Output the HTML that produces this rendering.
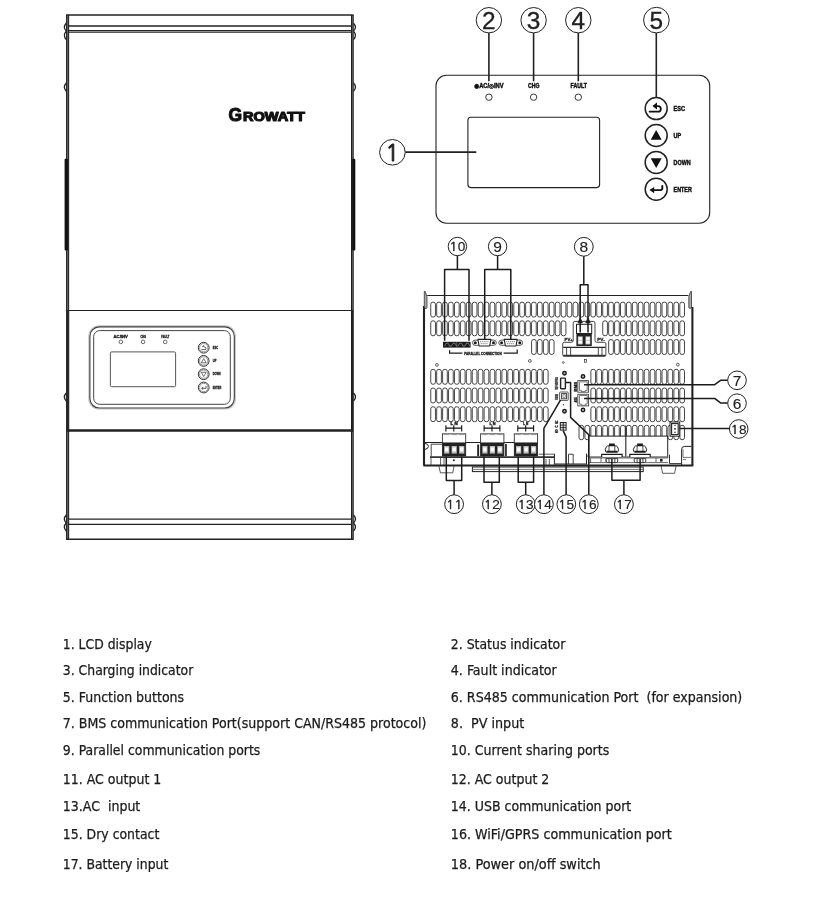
<!DOCTYPE html>
<html lang="en"><head><meta charset="utf-8"><title>Growatt inverter overview</title>
<style>
html,body{margin:0;padding:0;background:#fff;}
body{width:823px;height:897px;overflow:hidden;position:relative;font-family:"DejaVu Sans Condensed","Liberation Sans",sans-serif;}
svg{position:absolute;left:0;top:0;display:block;filter:grayscale(1)}
text{font-family:"Liberation Sans",sans-serif;fill:#222;stroke:none}
.one{font-family:"NanumGothic","Liberation Sans",sans-serif;stroke-width:.5px}
.bt text{fill:#111;stroke:#111;stroke-width:.42px}
.bs text{stroke:#222;stroke-width:.3px}
.lg text{font-family:"DejaVu Sans Condensed","Liberation Sans",sans-serif;font-size:14px;fill:#1c1c1c;stroke:#1c1c1c;stroke-width:.25px}
</style></head><body>
<svg width="823" height="897" viewBox="0 0 823 897">
<g id="unit-front" fill="none" stroke="#222">
<rect x="66" y="15" width="3.1" height="524.3" fill="#777" stroke="none"/>
<rect x="66" y="310" width="3.1" height="121.6" fill="#2a2a2a" stroke="none"/>
<path d="M66.6 15V539.3M68.5 15V539.3" stroke-width="1.2" stroke="#2a2a2a"/>
<rect x="351" y="15" width="3" height="524.3" fill="#7a7a7a" stroke="none"/>
<rect x="351" y="310" width="3" height="121.6" fill="#2a2a2a" stroke="none"/>
<path d="M351.7 15V539.3" stroke-width="1.4" stroke="#1c1c1c"/><path d="M353.5 15V539.3" stroke-width="0.9" stroke="#555"/>
<path d="M66 15H353.5" stroke-width="1.7"/>
<path d="M68 26H352" stroke-width="1.6"/>
<path d="M68 30.6H352M68 32.3H352" stroke-width="1.1"/>
<path d="M68 310.5H352" stroke-width="1.2"/>
<path d="M67 430.5H353" stroke-width="2.5"/>
<path d="M68 519.2H352" stroke-width="1.3"/>
<path d="M68 524.3H352" stroke-width="1.3"/>
<path d="M66 539.3H353.5" stroke-width="1.6"/>
<path d="M66.3 23.2Q62.4 27.1 66.3 31.1" stroke-width="1.3"/>
<path d="M353.5 23.2Q357.4 27.1 353.5 31.1" stroke-width="1.3"/>
<path d="M66.3 31.1Q62.4 35.4 66.3 39.6" stroke-width="1.3"/>
<path d="M353.5 31.1Q357.4 35.4 353.5 39.6" stroke-width="1.3"/>
<path d="M66.3 83.0Q62.4 87.2 66.3 91.3" stroke-width="1.3"/>
<path d="M353.5 83.0Q357.4 87.2 353.5 91.3" stroke-width="1.3"/>
<path d="M66.3 393.0Q62.4 397.0 66.3 401.0" stroke-width="1.3"/>
<path d="M353.5 393.0Q357.4 397.0 353.5 401.0" stroke-width="1.3"/>
<path d="M66.3 515.0Q62.4 519.0 66.3 523.0" stroke-width="1.3"/>
<path d="M353.5 515.0Q357.4 519.0 353.5 523.0" stroke-width="1.3"/>
<path d="M66.3 523.0Q62.4 527.0 66.3 531.0" stroke-width="1.3"/>
<path d="M353.5 523.0Q357.4 527.0 353.5 531.0" stroke-width="1.3"/>
</g>
<rect x="64.6" y="158.8" width="3.3" height="91.6" rx="1" fill="#111"/>
<rect x="352.2" y="158.8" width="3.1" height="91.6" rx="1" fill="#111"/>
<g id="logo" font-weight="bold" style="font-family:'Liberation Sans',sans-serif" fill="#111" stroke="#111" stroke-width="1.1" stroke-linejoin="round">
<text x="228.4" y="121" font-size="17.6" textLength="13.6" lengthAdjust="spacingAndGlyphs" style="fill:#111;stroke:#111">G</text>
<text x="243" y="121" font-size="12.2" textLength="62" lengthAdjust="spacingAndGlyphs" style="fill:#111;stroke:#111">ROWATT</text>
</g>
<g id="small-panel" fill="none" stroke="#333">
<rect x="88.9" y="325.9" width="146.4" height="83.1" rx="10.2" stroke-width="1.2" stroke="#c4c4c4"/>
<rect x="89.9" y="326.9" width="144.4" height="81.1" rx="9.4" stroke-width="1.1" stroke="#3c3c3c"/>
<rect x="93.7" y="330.6" width="136.6" height="73.7" rx="6" stroke-width="1" stroke="#444"/>
<rect x="110.4" y="351.9" width="65.2" height="34.8" rx="1.2" stroke-width="0.9" stroke="#444"/>
<circle cx="120.8" cy="341.9" r="1.8" stroke-width="0.8" stroke="#444"/>
<circle cx="143.1" cy="341.9" r="1.8" stroke-width="0.8" stroke="#444"/>
<circle cx="165.2" cy="341.9" r="1.8" stroke-width="0.8" stroke="#444"/>
<circle cx="203.7" cy="347.7" r="5.4" stroke-width="1"/>
<circle cx="203.7" cy="347.7" r="4.1" stroke-width="0.6" stroke="#555"/>
<circle cx="203.7" cy="360.9" r="5.4" stroke-width="1"/>
<circle cx="203.7" cy="360.9" r="4.1" stroke-width="0.6" stroke="#555"/>
<circle cx="203.7" cy="374.2" r="5.4" stroke-width="1"/>
<circle cx="203.7" cy="374.2" r="4.1" stroke-width="0.6" stroke="#555"/>
<circle cx="203.7" cy="387.5" r="5.4" stroke-width="1"/>
<circle cx="203.7" cy="387.5" r="4.1" stroke-width="0.6" stroke="#555"/>
<path d="M201.4 349.6h4.6M202.1 347.1l1.6 -1.5l0 1.2q2.6 0 2.4 2.2" stroke-width="0.8"/>
<path d="M201.3 362.8l2.4 -4.2l2.4 4.2z" stroke-width="0.7"/>
<path d="M201.3 372.3l2.4 4.2l2.4 -4.2z" stroke-width="0.7"/>
<path d="M206.0 385.9v2.4h-4.2m1.4 -1.3l-1.5 1.3l1.5 1.3" stroke-width="0.8"/>
</g>
<g id="small-panel-text" class="bs" font-weight="bold" font-size="3.4">
<text x="113.6" y="337.6" textLength="14.2" lengthAdjust="spacingAndGlyphs">AC/INV</text>
<text x="140.4" y="337.6" textLength="5.6" lengthAdjust="spacingAndGlyphs">CHG</text>
<text x="161.3" y="337.6" textLength="8.0" lengthAdjust="spacingAndGlyphs">FAULT</text>
<text x="212.8" y="348.9" textLength="5.4" lengthAdjust="spacingAndGlyphs">ESC</text>
<text x="212.8" y="362.1" textLength="3.6" lengthAdjust="spacingAndGlyphs">UP</text>
<text x="212.8" y="375.4" textLength="7.8" lengthAdjust="spacingAndGlyphs">DOWN</text>
<text x="212.8" y="388.7" textLength="8.6" lengthAdjust="spacingAndGlyphs">ENTER</text>
</g>
<g id="display-panel" fill="none" stroke="#222">
<rect x="436" y="75.2" width="273.7" height="148" rx="10.5" stroke-width="1.1"/>
<rect x="467.9" y="117.2" width="131.7" height="70.4" rx="3" stroke-width="1.1"/>
<circle cx="488.9" cy="97.2" r="3.2" stroke-width="0.9"/>
<path d="M488.9 33V81.3" stroke-width="1.6"/>
<circle cx="533.6" cy="97.2" r="3.2" stroke-width="0.9"/>
<path d="M533.6 33V81.3" stroke-width="1.6"/>
<circle cx="578.3" cy="97.2" r="3.2" stroke-width="0.9"/>
<path d="M578.3 33V81.3" stroke-width="1.6"/>
<path d="M656.3 33V97" stroke-width="1.6"/>
<path d="M405.2 152.2H476.3" stroke-width="1.7"/>
<circle cx="656.2" cy="108.6" r="11" stroke-width="1.5" fill="#fff"/>
<circle cx="656.2" cy="135.5" r="11" stroke-width="1.5" fill="#fff"/>
<circle cx="656.2" cy="162.4" r="11" stroke-width="1.5" fill="#fff"/>
<circle cx="656.2" cy="189.3" r="11" stroke-width="1.5" fill="#fff"/>
</g>
<g id="display-icons" fill="#111" stroke="#111">
<path d="M649.6 111.7H658.0a2.8 2.8 0 0 0 0 -5.6H655.6" stroke-width="1.8" fill="none" stroke-linecap="round"/>
<path d="M652.4 106.1l4.6 -3.5v7z" stroke="none"/>
<path d="M650.7 139.7l5.5 -9.8l5.5 9.8z" stroke="none"/>
<path d="M650.7 158.2l5.5 9.8l5.5 -9.8z" stroke="none"/>
<path d="M662.3 185.9v2.4q0 1.8 -1.8 1.8H653.6" stroke-width="1.9" fill="none" stroke-linecap="round"/>
<path d="M649.4 190.1l4.8 -3.1v6.2z" stroke="none"/>
</g>
<g id="display-text" font-weight="bold" font-size="6.3" style="stroke:#222;stroke-width:0.45px" class="bt">
<text x="474.2" y="88" textLength="29.4" lengthAdjust="spacingAndGlyphs"><tspan dy="-0.5" style="font-family:'DejaVu Sans',sans-serif" font-size="6.2">●</tspan><tspan dy="0.5">AC/</tspan><tspan dy="-0.5" style="font-family:'DejaVu Sans',sans-serif" font-size="6.2">◎</tspan><tspan dy="0.5">INV</tspan></text>
<text x="528.0" y="88" textLength="11.4" lengthAdjust="spacingAndGlyphs">CHG</text>
<text x="570.6" y="88" textLength="16.4" lengthAdjust="spacingAndGlyphs">FAULT</text>
<text x="673.6" y="111.0" textLength="11.4" lengthAdjust="spacingAndGlyphs">ESC</text>
<text x="673.6" y="137.9" textLength="7.6" lengthAdjust="spacingAndGlyphs">UP</text>
<text x="673.6" y="164.8" textLength="17.0" lengthAdjust="spacingAndGlyphs">DOWN</text>
<text x="673.6" y="191.7" textLength="18.2" lengthAdjust="spacingAndGlyphs">ENTER</text>
</g>
<g id="callouts-top">
<circle cx="392.4" cy="152.3" r="12.8" fill="#fff" stroke="#222" stroke-width="1.00"/><text x="392.4" y="161.0" font-size="24.4" text-anchor="middle" style="stroke:#222;stroke-width:0.35px"><tspan class="one" style="font-size:22.4px;stroke-width:1px">1</tspan></text>
<circle cx="488.9" cy="20.2" r="12.7" fill="#fff" stroke="#222" stroke-width="1.00"/><text x="488.9" y="28.9" font-size="24.4" text-anchor="middle" style="stroke:#222;stroke-width:0.35px">2</text>
<circle cx="533.6" cy="20.2" r="12.7" fill="#fff" stroke="#222" stroke-width="1.00"/><text x="533.6" y="28.9" font-size="24.4" text-anchor="middle" style="stroke:#222;stroke-width:0.35px">3</text>
<circle cx="578.3" cy="20.2" r="12.7" fill="#fff" stroke="#222" stroke-width="1.00"/><text x="578.3" y="28.9" font-size="24.4" text-anchor="middle" style="stroke:#222;stroke-width:0.35px">4</text>
<circle cx="656.4" cy="20.1" r="12.8" fill="#fff" stroke="#222" stroke-width="1.00"/><text x="656.4" y="28.8" font-size="24.4" text-anchor="middle" style="stroke:#222;stroke-width:0.35px">5</text>
</g>
<g class="lg" id="legend">
<text x="62.8" y="649.0" xml:space="preserve" textLength="89.0" lengthAdjust="spacingAndGlyphs">1. LCD display</text>
<text x="62.8" y="675.0" xml:space="preserve" textLength="130.5" lengthAdjust="spacingAndGlyphs">3. Charging indicator</text>
<text x="62.8" y="701.7" xml:space="preserve" textLength="121.3" lengthAdjust="spacingAndGlyphs">5. Function buttons</text>
<text x="62.8" y="727.7" xml:space="preserve" textLength="363.6" lengthAdjust="spacingAndGlyphs">7. BMS communication Port(support CAN/RS485 protocol)</text>
<text x="62.8" y="754.5" xml:space="preserve" textLength="197.5" lengthAdjust="spacingAndGlyphs">9. Parallel communication ports</text>
<text x="62.8" y="784.2" xml:space="preserve" textLength="98.5" lengthAdjust="spacingAndGlyphs">11. AC output 1</text>
<text x="62.8" y="811.4" xml:space="preserve" textLength="77.5" lengthAdjust="spacingAndGlyphs">13.AC  input</text>
<text x="62.8" y="838.6" xml:space="preserve" textLength="96.5" lengthAdjust="spacingAndGlyphs">15. Dry contact</text>
<text x="62.8" y="868.5" xml:space="preserve" textLength="105.5" lengthAdjust="spacingAndGlyphs">17. Battery input</text>
<text x="450.8" y="649.0" xml:space="preserve" textLength="114.5" lengthAdjust="spacingAndGlyphs">2. Status indicator</text>
<text x="450.8" y="675.0" xml:space="preserve" textLength="106.0" lengthAdjust="spacingAndGlyphs">4. Fault indicator</text>
<text x="450.8" y="701.7" xml:space="preserve" textLength="291.5" lengthAdjust="spacingAndGlyphs">6. RS485 communication Port  (for expansion)</text>
<text x="450.8" y="727.7" xml:space="preserve" textLength="73.5" lengthAdjust="spacingAndGlyphs">8.  PV input</text>
<text x="450.8" y="754.5" xml:space="preserve" textLength="158.5" lengthAdjust="spacingAndGlyphs">10. Current sharing ports</text>
<text x="450.8" y="784.2" xml:space="preserve" textLength="98.5" lengthAdjust="spacingAndGlyphs">12. AC output 2</text>
<text x="450.8" y="811.4" xml:space="preserve" textLength="180.5" lengthAdjust="spacingAndGlyphs">14. USB communication port</text>
<text x="450.8" y="838.6" xml:space="preserve" textLength="221.0" lengthAdjust="spacingAndGlyphs">16. WiFi/GPRS communication port</text>
<text x="450.8" y="868.5" xml:space="preserve" textLength="150.0" lengthAdjust="spacingAndGlyphs">18. Power on/off switch</text>
</g>
<g id="vents" fill="#fff" stroke="#262626" stroke-width="0.85">
<rect x="430.75" y="302.1" width="4.7" height="15.0" rx="2.35" ry="2.1"/>
<rect x="436.68" y="302.1" width="4.7" height="15.0" rx="2.35" ry="2.1"/>
<rect x="442.61" y="302.1" width="4.7" height="15.0" rx="2.35" ry="2.1"/>
<rect x="448.54" y="302.1" width="4.7" height="15.0" rx="2.35" ry="2.1"/>
<rect x="454.47" y="302.1" width="4.7" height="15.0" rx="2.35" ry="2.1"/>
<rect x="460.40" y="302.1" width="4.7" height="15.0" rx="2.35" ry="2.1"/>
<rect x="466.33" y="302.1" width="4.7" height="15.0" rx="2.35" ry="2.1"/>
<rect x="472.26" y="302.1" width="4.7" height="15.0" rx="2.35" ry="2.1"/>
<rect x="478.19" y="302.1" width="4.7" height="15.0" rx="2.35" ry="2.1"/>
<rect x="484.12" y="302.1" width="4.7" height="15.0" rx="2.35" ry="2.1"/>
<rect x="490.05" y="302.1" width="4.7" height="15.0" rx="2.35" ry="2.1"/>
<rect x="495.98" y="302.1" width="4.7" height="15.0" rx="2.35" ry="2.1"/>
<rect x="501.91" y="302.1" width="4.7" height="15.0" rx="2.35" ry="2.1"/>
<rect x="507.84" y="302.1" width="4.7" height="15.0" rx="2.35" ry="2.1"/>
<rect x="513.77" y="302.1" width="4.7" height="15.0" rx="2.35" ry="2.1"/>
<rect x="519.70" y="302.1" width="4.7" height="15.0" rx="2.35" ry="2.1"/>
<rect x="525.63" y="302.1" width="4.7" height="15.0" rx="2.35" ry="2.1"/>
<rect x="531.56" y="302.1" width="4.7" height="15.0" rx="2.35" ry="2.1"/>
<rect x="537.49" y="302.1" width="4.7" height="15.0" rx="2.35" ry="2.1"/>
<rect x="543.42" y="302.1" width="4.7" height="15.0" rx="2.35" ry="2.1"/>
<rect x="549.35" y="302.1" width="4.7" height="15.0" rx="2.35" ry="2.1"/>
<rect x="555.28" y="302.1" width="4.7" height="15.0" rx="2.35" ry="2.1"/>
<rect x="561.21" y="302.1" width="4.7" height="15.0" rx="2.35" ry="2.1"/>
<rect x="567.14" y="302.1" width="4.7" height="15.0" rx="2.35" ry="2.1"/>
<rect x="573.07" y="302.1" width="4.7" height="15.0" rx="2.35" ry="2.1"/>
<rect x="579.00" y="302.1" width="4.7" height="15.0" rx="2.35" ry="2.1"/>
<rect x="584.93" y="302.1" width="4.7" height="15.0" rx="2.35" ry="2.1"/>
<rect x="590.86" y="302.1" width="4.7" height="15.0" rx="2.35" ry="2.1"/>
<rect x="596.79" y="302.1" width="4.7" height="15.0" rx="2.35" ry="2.1"/>
<rect x="602.72" y="302.1" width="4.7" height="15.0" rx="2.35" ry="2.1"/>
<rect x="608.65" y="302.1" width="4.7" height="15.0" rx="2.35" ry="2.1"/>
<rect x="614.58" y="302.1" width="4.7" height="15.0" rx="2.35" ry="2.1"/>
<rect x="620.51" y="302.1" width="4.7" height="15.0" rx="2.35" ry="2.1"/>
<rect x="626.44" y="302.1" width="4.7" height="15.0" rx="2.35" ry="2.1"/>
<rect x="632.37" y="302.1" width="4.7" height="15.0" rx="2.35" ry="2.1"/>
<rect x="638.30" y="302.1" width="4.7" height="15.0" rx="2.35" ry="2.1"/>
<rect x="644.23" y="302.1" width="4.7" height="15.0" rx="2.35" ry="2.1"/>
<rect x="650.16" y="302.1" width="4.7" height="15.0" rx="2.35" ry="2.1"/>
<rect x="656.09" y="302.1" width="4.7" height="15.0" rx="2.35" ry="2.1"/>
<rect x="662.02" y="302.1" width="4.7" height="15.0" rx="2.35" ry="2.1"/>
<rect x="667.95" y="302.1" width="4.7" height="15.0" rx="2.35" ry="2.1"/>
<rect x="673.88" y="302.1" width="4.7" height="15.0" rx="2.35" ry="2.1"/>
<rect x="679.81" y="302.1" width="4.7" height="15.0" rx="2.35" ry="2.1"/>
<rect x="430.75" y="320.8" width="4.7" height="15.0" rx="2.35" ry="2.1"/>
<rect x="436.68" y="320.8" width="4.7" height="15.0" rx="2.35" ry="2.1"/>
<rect x="442.61" y="320.8" width="4.7" height="15.0" rx="2.35" ry="2.1"/>
<rect x="448.54" y="320.8" width="4.7" height="15.0" rx="2.35" ry="2.1"/>
<rect x="454.47" y="320.8" width="4.7" height="15.0" rx="2.35" ry="2.1"/>
<rect x="460.40" y="320.8" width="4.7" height="15.0" rx="2.35" ry="2.1"/>
<rect x="466.33" y="320.8" width="4.7" height="15.0" rx="2.35" ry="2.1"/>
<rect x="472.26" y="320.8" width="4.7" height="15.0" rx="2.35" ry="2.1"/>
<rect x="478.19" y="320.8" width="4.7" height="15.0" rx="2.35" ry="2.1"/>
<rect x="484.12" y="320.8" width="4.7" height="15.0" rx="2.35" ry="2.1"/>
<rect x="490.05" y="320.8" width="4.7" height="15.0" rx="2.35" ry="2.1"/>
<rect x="495.98" y="320.8" width="4.7" height="15.0" rx="2.35" ry="2.1"/>
<rect x="501.91" y="320.8" width="4.7" height="15.0" rx="2.35" ry="2.1"/>
<rect x="507.84" y="320.8" width="4.7" height="15.0" rx="2.35" ry="2.1"/>
<rect x="513.77" y="320.8" width="4.7" height="15.0" rx="2.35" ry="2.1"/>
<rect x="519.70" y="320.8" width="4.7" height="15.0" rx="2.35" ry="2.1"/>
<rect x="525.63" y="320.8" width="4.7" height="15.0" rx="2.35" ry="2.1"/>
<rect x="531.56" y="320.8" width="4.7" height="15.0" rx="2.35" ry="2.1"/>
<rect x="537.49" y="320.8" width="4.7" height="15.0" rx="2.35" ry="2.1"/>
<rect x="543.42" y="320.8" width="4.7" height="15.0" rx="2.35" ry="2.1"/>
<rect x="549.35" y="320.8" width="4.7" height="15.0" rx="2.35" ry="2.1"/>
<rect x="555.28" y="320.8" width="4.7" height="15.0" rx="2.35" ry="2.1"/>
<rect x="561.21" y="320.8" width="4.7" height="15.0" rx="2.35" ry="2.1"/>
<rect x="602.72" y="320.8" width="4.7" height="15.0" rx="2.35" ry="2.1"/>
<rect x="608.65" y="320.8" width="4.7" height="15.0" rx="2.35" ry="2.1"/>
<rect x="614.58" y="320.8" width="4.7" height="15.0" rx="2.35" ry="2.1"/>
<rect x="620.51" y="320.8" width="4.7" height="15.0" rx="2.35" ry="2.1"/>
<rect x="626.44" y="320.8" width="4.7" height="15.0" rx="2.35" ry="2.1"/>
<rect x="632.37" y="320.8" width="4.7" height="15.0" rx="2.35" ry="2.1"/>
<rect x="638.30" y="320.8" width="4.7" height="15.0" rx="2.35" ry="2.1"/>
<rect x="644.23" y="320.8" width="4.7" height="15.0" rx="2.35" ry="2.1"/>
<rect x="650.16" y="320.8" width="4.7" height="15.0" rx="2.35" ry="2.1"/>
<rect x="656.09" y="320.8" width="4.7" height="15.0" rx="2.35" ry="2.1"/>
<rect x="662.02" y="320.8" width="4.7" height="15.0" rx="2.35" ry="2.1"/>
<rect x="667.95" y="320.8" width="4.7" height="15.0" rx="2.35" ry="2.1"/>
<rect x="673.88" y="320.8" width="4.7" height="15.0" rx="2.35" ry="2.1"/>
<rect x="679.81" y="320.8" width="4.7" height="15.0" rx="2.35" ry="2.1"/>
<rect x="531.56" y="339.5" width="4.7" height="15.0" rx="2.35" ry="2.1"/>
<rect x="537.49" y="339.5" width="4.7" height="15.0" rx="2.35" ry="2.1"/>
<rect x="543.42" y="339.5" width="4.7" height="15.0" rx="2.35" ry="2.1"/>
<rect x="549.35" y="339.5" width="4.7" height="15.0" rx="2.35" ry="2.1"/>
<rect x="608.65" y="339.5" width="4.7" height="15.0" rx="2.35" ry="2.1"/>
<rect x="614.58" y="339.5" width="4.7" height="15.0" rx="2.35" ry="2.1"/>
<rect x="620.51" y="339.5" width="4.7" height="15.0" rx="2.35" ry="2.1"/>
<rect x="626.44" y="339.5" width="4.7" height="15.0" rx="2.35" ry="2.1"/>
<rect x="632.37" y="339.5" width="4.7" height="15.0" rx="2.35" ry="2.1"/>
<rect x="638.30" y="339.5" width="4.7" height="15.0" rx="2.35" ry="2.1"/>
<rect x="644.23" y="339.5" width="4.7" height="15.0" rx="2.35" ry="2.1"/>
<rect x="650.16" y="339.5" width="4.7" height="15.0" rx="2.35" ry="2.1"/>
<rect x="656.09" y="339.5" width="4.7" height="15.0" rx="2.35" ry="2.1"/>
<rect x="662.02" y="339.5" width="4.7" height="15.0" rx="2.35" ry="2.1"/>
<rect x="667.95" y="339.5" width="4.7" height="15.0" rx="2.35" ry="2.1"/>
<rect x="673.88" y="339.5" width="4.7" height="15.0" rx="2.35" ry="2.1"/>
<rect x="679.81" y="339.5" width="4.7" height="15.0" rx="2.35" ry="2.1"/>
<rect x="430.75" y="369.3" width="4.7" height="15.0" rx="2.35" ry="2.1"/>
<rect x="436.68" y="369.3" width="4.7" height="15.0" rx="2.35" ry="2.1"/>
<rect x="442.61" y="369.3" width="4.7" height="15.0" rx="2.35" ry="2.1"/>
<rect x="448.54" y="369.3" width="4.7" height="15.0" rx="2.35" ry="2.1"/>
<rect x="454.47" y="369.3" width="4.7" height="15.0" rx="2.35" ry="2.1"/>
<rect x="460.40" y="369.3" width="4.7" height="15.0" rx="2.35" ry="2.1"/>
<rect x="466.33" y="369.3" width="4.7" height="15.0" rx="2.35" ry="2.1"/>
<rect x="472.26" y="369.3" width="4.7" height="15.0" rx="2.35" ry="2.1"/>
<rect x="478.19" y="369.3" width="4.7" height="15.0" rx="2.35" ry="2.1"/>
<rect x="484.12" y="369.3" width="4.7" height="15.0" rx="2.35" ry="2.1"/>
<rect x="490.05" y="369.3" width="4.7" height="15.0" rx="2.35" ry="2.1"/>
<rect x="495.98" y="369.3" width="4.7" height="15.0" rx="2.35" ry="2.1"/>
<rect x="501.91" y="369.3" width="4.7" height="15.0" rx="2.35" ry="2.1"/>
<rect x="507.84" y="369.3" width="4.7" height="15.0" rx="2.35" ry="2.1"/>
<rect x="513.77" y="369.3" width="4.7" height="15.0" rx="2.35" ry="2.1"/>
<rect x="519.70" y="369.3" width="4.7" height="15.0" rx="2.35" ry="2.1"/>
<rect x="525.63" y="369.3" width="4.7" height="15.0" rx="2.35" ry="2.1"/>
<rect x="531.56" y="369.3" width="4.7" height="15.0" rx="2.35" ry="2.1"/>
<rect x="537.49" y="369.3" width="4.7" height="15.0" rx="2.35" ry="2.1"/>
<rect x="543.42" y="369.3" width="4.7" height="15.0" rx="2.35" ry="2.1"/>
<rect x="590.86" y="369.3" width="4.7" height="15.0" rx="2.35" ry="2.1"/>
<rect x="596.79" y="369.3" width="4.7" height="15.0" rx="2.35" ry="2.1"/>
<rect x="602.72" y="369.3" width="4.7" height="15.0" rx="2.35" ry="2.1"/>
<rect x="608.65" y="369.3" width="4.7" height="15.0" rx="2.35" ry="2.1"/>
<rect x="614.58" y="369.3" width="4.7" height="15.0" rx="2.35" ry="2.1"/>
<rect x="620.51" y="369.3" width="4.7" height="15.0" rx="2.35" ry="2.1"/>
<rect x="626.44" y="369.3" width="4.7" height="15.0" rx="2.35" ry="2.1"/>
<rect x="632.37" y="369.3" width="4.7" height="15.0" rx="2.35" ry="2.1"/>
<rect x="638.30" y="369.3" width="4.7" height="15.0" rx="2.35" ry="2.1"/>
<rect x="644.23" y="369.3" width="4.7" height="15.0" rx="2.35" ry="2.1"/>
<rect x="650.16" y="369.3" width="4.7" height="15.0" rx="2.35" ry="2.1"/>
<rect x="656.09" y="369.3" width="4.7" height="15.0" rx="2.35" ry="2.1"/>
<rect x="662.02" y="369.3" width="4.7" height="15.0" rx="2.35" ry="2.1"/>
<rect x="667.95" y="369.3" width="4.7" height="15.0" rx="2.35" ry="2.1"/>
<rect x="673.88" y="369.3" width="4.7" height="15.0" rx="2.35" ry="2.1"/>
<rect x="679.81" y="369.3" width="4.7" height="15.0" rx="2.35" ry="2.1"/>
<rect x="430.75" y="388.0" width="4.7" height="15.0" rx="2.35" ry="2.1"/>
<rect x="436.68" y="388.0" width="4.7" height="15.0" rx="2.35" ry="2.1"/>
<rect x="442.61" y="388.0" width="4.7" height="15.0" rx="2.35" ry="2.1"/>
<rect x="448.54" y="388.0" width="4.7" height="15.0" rx="2.35" ry="2.1"/>
<rect x="454.47" y="388.0" width="4.7" height="15.0" rx="2.35" ry="2.1"/>
<rect x="460.40" y="388.0" width="4.7" height="15.0" rx="2.35" ry="2.1"/>
<rect x="466.33" y="388.0" width="4.7" height="15.0" rx="2.35" ry="2.1"/>
<rect x="472.26" y="388.0" width="4.7" height="15.0" rx="2.35" ry="2.1"/>
<rect x="478.19" y="388.0" width="4.7" height="15.0" rx="2.35" ry="2.1"/>
<rect x="484.12" y="388.0" width="4.7" height="15.0" rx="2.35" ry="2.1"/>
<rect x="490.05" y="388.0" width="4.7" height="15.0" rx="2.35" ry="2.1"/>
<rect x="495.98" y="388.0" width="4.7" height="15.0" rx="2.35" ry="2.1"/>
<rect x="501.91" y="388.0" width="4.7" height="15.0" rx="2.35" ry="2.1"/>
<rect x="507.84" y="388.0" width="4.7" height="15.0" rx="2.35" ry="2.1"/>
<rect x="513.77" y="388.0" width="4.7" height="15.0" rx="2.35" ry="2.1"/>
<rect x="519.70" y="388.0" width="4.7" height="15.0" rx="2.35" ry="2.1"/>
<rect x="525.63" y="388.0" width="4.7" height="15.0" rx="2.35" ry="2.1"/>
<rect x="531.56" y="388.0" width="4.7" height="15.0" rx="2.35" ry="2.1"/>
<rect x="537.49" y="388.0" width="4.7" height="15.0" rx="2.35" ry="2.1"/>
<rect x="543.42" y="388.0" width="4.7" height="15.0" rx="2.35" ry="2.1"/>
<rect x="590.86" y="388.0" width="4.7" height="15.0" rx="2.35" ry="2.1"/>
<rect x="596.79" y="388.0" width="4.7" height="15.0" rx="2.35" ry="2.1"/>
<rect x="602.72" y="388.0" width="4.7" height="15.0" rx="2.35" ry="2.1"/>
<rect x="608.65" y="388.0" width="4.7" height="15.0" rx="2.35" ry="2.1"/>
<rect x="614.58" y="388.0" width="4.7" height="15.0" rx="2.35" ry="2.1"/>
<rect x="620.51" y="388.0" width="4.7" height="15.0" rx="2.35" ry="2.1"/>
<rect x="626.44" y="388.0" width="4.7" height="15.0" rx="2.35" ry="2.1"/>
<rect x="632.37" y="388.0" width="4.7" height="15.0" rx="2.35" ry="2.1"/>
<rect x="638.30" y="388.0" width="4.7" height="15.0" rx="2.35" ry="2.1"/>
<rect x="644.23" y="388.0" width="4.7" height="15.0" rx="2.35" ry="2.1"/>
<rect x="650.16" y="388.0" width="4.7" height="15.0" rx="2.35" ry="2.1"/>
<rect x="656.09" y="388.0" width="4.7" height="15.0" rx="2.35" ry="2.1"/>
<rect x="662.02" y="388.0" width="4.7" height="15.0" rx="2.35" ry="2.1"/>
<rect x="667.95" y="388.0" width="4.7" height="15.0" rx="2.35" ry="2.1"/>
<rect x="673.88" y="388.0" width="4.7" height="15.0" rx="2.35" ry="2.1"/>
<rect x="679.81" y="388.0" width="4.7" height="15.0" rx="2.35" ry="2.1"/>
<rect x="430.75" y="406.7" width="4.7" height="15.0" rx="2.35" ry="2.1"/>
<rect x="436.68" y="406.7" width="4.7" height="15.0" rx="2.35" ry="2.1"/>
<rect x="442.61" y="406.7" width="4.7" height="15.0" rx="2.35" ry="2.1"/>
<rect x="448.54" y="406.7" width="4.7" height="15.0" rx="2.35" ry="2.1"/>
<rect x="454.47" y="406.7" width="4.7" height="15.0" rx="2.35" ry="2.1"/>
<rect x="460.40" y="406.7" width="4.7" height="15.0" rx="2.35" ry="2.1"/>
<rect x="466.33" y="406.7" width="4.7" height="15.0" rx="2.35" ry="2.1"/>
<rect x="472.26" y="406.7" width="4.7" height="15.0" rx="2.35" ry="2.1"/>
<rect x="478.19" y="406.7" width="4.7" height="15.0" rx="2.35" ry="2.1"/>
<rect x="484.12" y="406.7" width="4.7" height="15.0" rx="2.35" ry="2.1"/>
<rect x="490.05" y="406.7" width="4.7" height="15.0" rx="2.35" ry="2.1"/>
<rect x="495.98" y="406.7" width="4.7" height="15.0" rx="2.35" ry="2.1"/>
<rect x="501.91" y="406.7" width="4.7" height="15.0" rx="2.35" ry="2.1"/>
<rect x="507.84" y="406.7" width="4.7" height="15.0" rx="2.35" ry="2.1"/>
<rect x="513.77" y="406.7" width="4.7" height="15.0" rx="2.35" ry="2.1"/>
<rect x="519.70" y="406.7" width="4.7" height="15.0" rx="2.35" ry="2.1"/>
<rect x="525.63" y="406.7" width="4.7" height="15.0" rx="2.35" ry="2.1"/>
<rect x="531.56" y="406.7" width="4.7" height="15.0" rx="2.35" ry="2.1"/>
<rect x="537.49" y="406.7" width="4.7" height="15.0" rx="2.35" ry="2.1"/>
<rect x="543.42" y="406.7" width="4.7" height="15.0" rx="2.35" ry="2.1"/>
<rect x="590.86" y="406.7" width="4.7" height="15.0" rx="2.35" ry="2.1"/>
<rect x="596.79" y="406.7" width="4.7" height="15.0" rx="2.35" ry="2.1"/>
<rect x="602.72" y="406.7" width="4.7" height="15.0" rx="2.35" ry="2.1"/>
<rect x="608.65" y="406.7" width="4.7" height="15.0" rx="2.35" ry="2.1"/>
<rect x="614.58" y="406.7" width="4.7" height="15.0" rx="2.35" ry="2.1"/>
<rect x="620.51" y="406.7" width="4.7" height="15.0" rx="2.35" ry="2.1"/>
<rect x="626.44" y="406.7" width="4.7" height="15.0" rx="2.35" ry="2.1"/>
<rect x="632.37" y="406.7" width="4.7" height="15.0" rx="2.35" ry="2.1"/>
<rect x="638.30" y="406.7" width="4.7" height="15.0" rx="2.35" ry="2.1"/>
<rect x="644.23" y="406.7" width="4.7" height="15.0" rx="2.35" ry="2.1"/>
<rect x="650.16" y="406.7" width="4.7" height="15.0" rx="2.35" ry="2.1"/>
<rect x="656.09" y="406.7" width="4.7" height="15.0" rx="2.35" ry="2.1"/>
<rect x="662.02" y="406.7" width="4.7" height="15.0" rx="2.35" ry="2.1"/>
<rect x="667.95" y="406.7" width="4.7" height="15.0" rx="2.35" ry="2.1"/>
<rect x="673.88" y="406.7" width="4.7" height="15.0" rx="2.35" ry="2.1"/>
<rect x="679.81" y="406.7" width="4.7" height="15.0" rx="2.35" ry="2.1"/>
<rect x="579.00" y="425.3" width="4.7" height="14.4" rx="2.35" ry="2.1"/>
<rect x="584.93" y="425.3" width="4.7" height="14.4" rx="2.35" ry="2.1"/>
<rect x="590.86" y="425.3" width="4.7" height="14.4" rx="2.35" ry="2.1"/>
<rect x="596.79" y="425.3" width="4.7" height="14.4" rx="2.35" ry="2.1"/>
<rect x="602.72" y="425.3" width="4.7" height="14.4" rx="2.35" ry="2.1"/>
<rect x="608.65" y="425.3" width="4.7" height="14.4" rx="2.35" ry="2.1"/>
<rect x="614.58" y="425.3" width="4.7" height="14.4" rx="2.35" ry="2.1"/>
<rect x="620.51" y="425.3" width="4.7" height="14.4" rx="2.35" ry="2.1"/>
<rect x="626.44" y="425.3" width="4.7" height="14.4" rx="2.35" ry="2.1"/>
<rect x="632.37" y="425.3" width="4.7" height="14.4" rx="2.35" ry="2.1"/>
<rect x="638.30" y="425.3" width="4.7" height="14.4" rx="2.35" ry="2.1"/>
<rect x="644.23" y="425.3" width="4.7" height="14.4" rx="2.35" ry="2.1"/>
<rect x="650.16" y="425.3" width="4.7" height="14.4" rx="2.35" ry="2.1"/>
<rect x="656.09" y="425.3" width="4.7" height="14.4" rx="2.35" ry="2.1"/>
<rect x="662.02" y="425.3" width="4.7" height="14.4" rx="2.35" ry="2.1"/>
<rect x="667.95" y="425.3" width="4.7" height="14.4" rx="2.35" ry="2.1"/>
<rect x="673.88" y="425.3" width="4.7" height="14.4" rx="2.35" ry="2.1"/>
<rect x="679.81" y="425.3" width="4.7" height="14.4" rx="2.35" ry="2.1"/>
</g>
<g id="chassis" fill="none" stroke="#222">
<path d="M424 306V465.5" stroke-width="2.1"/>
<path d="M692.4 307V465.5" stroke-width="2.1"/>
<path d="M427.2 295.5H688.4" stroke-width="1.2"/>
<path d="M424.3 306.5V291.4h0.9l1.8 5.4v11q-0.6 1.2 -2.2 0.4z" stroke-width="0.8" stroke="#333" fill="#aaa"/>
<path d="M691.5 307V291.4h-0.9l-1.8 5.4v11q0.6 1.2 2.6 0.2z" stroke-width="0.8" stroke="#333" fill="#aaa"/>
<path d="M424 442.5H514" stroke-width="1"/>
<path d="M430 457.2H554.6" stroke-width="1.8" stroke="#333"/>
<path d="M423.4 465.6H693.2" stroke-width="2"/>
</g>
<g id="ports" class="bs">
<circle cx="436.9" cy="364.9" r="1.4" fill="#fff" stroke="#333" stroke-width="0.8"/>
<circle cx="529.9" cy="360.9" r="1.4" fill="#fff" stroke="#333" stroke-width="0.8"/>
<circle cx="677.8" cy="364.6" r="1.4" fill="#fff" stroke="#333" stroke-width="0.8"/>
<circle cx="563.3" cy="362.5" r="0.9" fill="#fff" stroke="#333" stroke-width="0.7"/>
<rect x="584.4" y="359.4" width="2" height="2.8" fill="#fff" stroke="#333" stroke-width="0.7"/>
<circle cx="563.5" cy="404.7" r="0.7" fill="#444"/>
<rect x="443" y="341.8" width="27.6" height="5.8" fill="#1a1a1a"/>
<path d="M444.6 346.2l1.6 -3h2l1.4 3h1.8l1.6 -3h2l1.6 3M458 346.2l1.6 -3h2l1.4 3h1.8l1.6 -3h2l1.4 3" stroke="#aaa" stroke-width="0.6" fill="none"/>
<path d="M456.8 342v5.4" stroke="#888" stroke-width="0.6"/>
<rect x="472.5" y="340.1" width="23.8" height="5.2" rx="2.6" fill="#fff" stroke="#444" stroke-width="0.9"/><path d="M477.9 339.4h13l-1.2 6.6h-10.6z" fill="#fff" stroke="#222" stroke-width="1.1" stroke-linejoin="round"/><path d="M479.9 341.7h9M480.7 343.7h7.4" stroke="#444" stroke-width="0.8" stroke-dasharray="1 0.9" fill="none"/><circle cx="475.3" cy="342.7" r="1.5" fill="#1a1a1a"/><circle cx="493.5" cy="342.7" r="1.5" fill="#1a1a1a"/>
<rect x="498.8" y="340.1" width="23.8" height="5.2" rx="2.6" fill="#fff" stroke="#444" stroke-width="0.9"/><path d="M504.2 339.4h13l-1.2 6.6h-10.6z" fill="#fff" stroke="#222" stroke-width="1.1" stroke-linejoin="round"/><path d="M506.2 341.7h9M507.0 343.7h7.4" stroke="#444" stroke-width="0.8" stroke-dasharray="1 0.9" fill="none"/><circle cx="501.6" cy="342.7" r="1.5" fill="#1a1a1a"/><circle cx="519.8" cy="342.7" r="1.5" fill="#1a1a1a"/>
<path d="M449.6 350.3V353.2H462.4M503.6 353.2H517.2V349.4" fill="none" stroke="#1c1c1c" stroke-width="1.2"/>
<text x="464.2" y="354.5" font-size="3.5" font-weight="bold" textLength="37.4" lengthAdjust="spacingAndGlyphs">PARALLEL CONNECTION</text>
<path d="M573.2 323q0 -1.6 1.6 -1.6h18.6q1.6 0 1.6 1.6v17.6q0 1.7 1.7 1.7h7.6q1.6 0 1.6 1.6v10.8q0 1.6 -1.6 1.6h-40q-1.6 0 -1.6 -1.6v-10.8q0 -1.6 1.6 -1.6h7.2q1.7 0 1.7 -1.7z" fill="#fff" stroke="#333" stroke-width="0.9"/>
<rect x="576.5" y="324.3" width="15.2" height="9.2" fill="#fff" stroke="#222" stroke-width="1"/>
<rect x="576.4" y="333.4" width="15.4" height="12.6" fill="#222"/>
<rect x="577.9" y="336.4" width="4.8" height="8" fill="#ccc"/>
<rect x="578.7" y="337.4" width="3.2" height="2.4" fill="#fff"/><rect x="578.7" y="341" width="3.2" height="2.4" fill="#fff"/>
<rect x="585.5" y="336.4" width="4.8" height="8" fill="#ccc"/>
<rect x="586.3" y="337.4" width="3.2" height="2.4" fill="#fff"/><rect x="586.3" y="341" width="3.2" height="2.4" fill="#fff"/>
<path d="M563.2 347.4H605.4" stroke="#222" stroke-width="1.3"/>
<path d="M563.2 355.4H605.4" stroke="#333" stroke-width="1.5"/>
<path d="M570.6 347.4V355.2M598.3 347.4V355.2M566.6 348V355M602 348V355" stroke="#333" stroke-width="0.9" fill="none"/>
<text x="564.6" y="340.8" font-size="4.4" font-weight="bold" textLength="8.2" lengthAdjust="spacingAndGlyphs">PV+</text>
<text x="597.2" y="340.8" font-size="4.4" font-weight="bold" textLength="7.6" lengthAdjust="spacingAndGlyphs">PV-</text>
<circle cx="564.5" cy="373.2" r="1.7" fill="#ddd" stroke="#1c1c1c" stroke-width="1.5"/><circle cx="564.5" cy="373.2" r="0.5" fill="#777" stroke="none"/>
<circle cx="564.5" cy="411.2" r="1.7" fill="#ddd" stroke="#1c1c1c" stroke-width="1.5"/><circle cx="564.5" cy="411.2" r="0.5" fill="#777" stroke="none"/>
<circle cx="583.0" cy="376.5" r="1.7" fill="#ddd" stroke="#1c1c1c" stroke-width="1.5"/><circle cx="583.0" cy="376.5" r="0.5" fill="#777" stroke="none"/>
<circle cx="583.0" cy="410.0" r="1.7" fill="#ddd" stroke="#1c1c1c" stroke-width="1.5"/><circle cx="583.0" cy="410.0" r="0.5" fill="#777" stroke="none"/>
<rect x="560.6" y="378.1" width="4.8" height="10.6" rx="0.6" fill="#fff" stroke="#222" stroke-width="1.4"/>
<rect x="559.6" y="392" width="8.6" height="8.4" rx="0.8" fill="#fff" stroke="#444" stroke-width="0.9"/>
<rect x="561.6" y="393.6" width="5" height="5.2" fill="#fff" stroke="#333" stroke-width="0.9"/>
<rect x="563" y="394.8" width="2.2" height="2.8" fill="#fff" stroke="#555" stroke-width="0.6"/>
<rect x="559.8" y="422" width="6.8" height="8.6" fill="#222"/>
<rect x="560.8" y="423.0" width="1.9" height="1.7" fill="#ddd"/>
<rect x="563.7" y="423.0" width="1.9" height="1.7" fill="#ddd"/>
<rect x="560.8" y="425.5" width="1.9" height="1.7" fill="#ddd"/>
<rect x="563.7" y="425.5" width="1.9" height="1.7" fill="#ddd"/>
<rect x="560.8" y="428.0" width="1.9" height="1.7" fill="#ddd"/>
<rect x="563.7" y="428.0" width="1.9" height="1.7" fill="#ddd"/>
<text transform="translate(557.7 389.6) rotate(-90)" font-size="3.2" font-weight="bold" textLength="12.4" lengthAdjust="spacingAndGlyphs">WiFi/GPRS</text>
<text transform="translate(557.7 399.8) rotate(-90)" font-size="3.2" font-weight="bold" textLength="5.6" lengthAdjust="spacingAndGlyphs">USB</text>
<text transform="translate(557.7 423.8) rotate(-90)" font-size="3" font-weight="bold" textLength="3.2" lengthAdjust="spacingAndGlyphs">NC</text>
<text transform="translate(557.7 427.6) rotate(-90)" font-size="3" font-weight="bold">C</text>
<text transform="translate(557.7 433) rotate(-90)" font-size="3" font-weight="bold" textLength="3.4" lengthAdjust="spacingAndGlyphs">NO</text>
<text transform="translate(576.6 391.4) rotate(-90)" font-size="3.2" font-weight="bold" textLength="9.6" lengthAdjust="spacingAndGlyphs">BMS</text>
<text transform="translate(576.6 402.4) rotate(-90)" font-size="3.2" font-weight="bold" textLength="5.2" lengthAdjust="spacingAndGlyphs">485</text>
<rect x="577.8" y="380.6" width="10.8" height="11.6" fill="#fff" stroke="#444" stroke-width="0.9"/>
<path d="M579.4 381.8h7.8v8.6h-2v1.2h-3.8v-1.2h-2z" fill="#fff" stroke="#555" stroke-width="0.8"/>
<rect x="577.8" y="394.3" width="10.8" height="11.6" fill="#fff" stroke="#444" stroke-width="0.9"/>
<path d="M579.4 395.5h7.8v8.6h-2v1.2h-3.8v-1.2h-2z" fill="#fff" stroke="#555" stroke-width="0.8"/>
<rect x="670" y="422" width="9.7" height="14.2" fill="#fff" stroke="#222" stroke-width="1"/>
<rect x="671.6" y="423.6" width="6.6" height="11" fill="#fff" stroke="#222" stroke-width="1.1"/>
<circle cx="675" cy="428.8" r="0.9" fill="#222"/><circle cx="675" cy="432.3" r="0.8" fill="#333"/><path d="M674 425.6h2" stroke="#333" stroke-width="0.7"/>
</g>
<g id="terminals" class="bs">
<rect x="442.4" y="433.8" width="23.3" height="9.4" fill="#fff" stroke="#333" stroke-width="0.9"/><rect x="443.8" y="433.6" width="5.6" height="1.5" fill="#999" stroke="none"/><rect x="451.4" y="433.6" width="5.6" height="1.5" fill="#999" stroke="none"/><rect x="459.0" y="433.6" width="5.6" height="1.5" fill="#999" stroke="none"/><rect x="442.4" y="443" width="23.3" height="13" fill="#222" stroke="#222" stroke-width="0.8"/><rect x="444.1" y="446" width="5.2" height="7.6" fill="#bbb" stroke="none"/><rect x="445.0" y="447.4" width="3.4" height="4.2" fill="#fff" stroke="none"/><rect x="451.6" y="446" width="5.2" height="7.6" fill="#bbb" stroke="none"/><rect x="452.5" y="447.4" width="3.4" height="4.2" fill="#fff" stroke="none"/><rect x="459.1" y="446" width="5.2" height="7.6" fill="#bbb" stroke="none"/><rect x="460.0" y="447.4" width="3.4" height="4.2" fill="#fff" stroke="none"/><path d="M445.9 428.1H461.7M445.9 425.3V431.5M453.8 425.3V431.5M461.7 425.3V431.5" fill="none" stroke="#111" stroke-width="1.1"/>
<rect x="480.6" y="433.8" width="23.3" height="9.4" fill="#fff" stroke="#333" stroke-width="0.9"/><rect x="482.0" y="433.6" width="5.6" height="1.5" fill="#999" stroke="none"/><rect x="489.6" y="433.6" width="5.6" height="1.5" fill="#999" stroke="none"/><rect x="497.2" y="433.6" width="5.6" height="1.5" fill="#999" stroke="none"/><rect x="480.6" y="443" width="23.3" height="13" fill="#222" stroke="#222" stroke-width="0.8"/><rect x="482.3" y="446" width="5.2" height="7.6" fill="#bbb" stroke="none"/><rect x="483.2" y="447.4" width="3.4" height="4.2" fill="#fff" stroke="none"/><rect x="489.8" y="446" width="5.2" height="7.6" fill="#bbb" stroke="none"/><rect x="490.7" y="447.4" width="3.4" height="4.2" fill="#fff" stroke="none"/><rect x="497.3" y="446" width="5.2" height="7.6" fill="#bbb" stroke="none"/><rect x="498.2" y="447.4" width="3.4" height="4.2" fill="#fff" stroke="none"/><path d="M484.1 428.1H499.9M484.1 425.3V431.5M492.0 425.3V431.5M499.9 425.3V431.5" fill="none" stroke="#111" stroke-width="1.1"/>
<rect x="514.3" y="433.8" width="23.3" height="9.4" fill="#fff" stroke="#333" stroke-width="0.9"/><rect x="515.7" y="433.6" width="5.6" height="1.5" fill="#999" stroke="none"/><rect x="523.3" y="433.6" width="5.6" height="1.5" fill="#999" stroke="none"/><rect x="530.9" y="433.6" width="5.6" height="1.5" fill="#999" stroke="none"/><rect x="514.3" y="443" width="23.3" height="13" fill="#222" stroke="#222" stroke-width="0.8"/><rect x="516.0" y="446" width="5.2" height="7.6" fill="#bbb" stroke="none"/><rect x="516.9" y="447.4" width="3.4" height="4.2" fill="#fff" stroke="none"/><rect x="523.5" y="446" width="5.2" height="7.6" fill="#bbb" stroke="none"/><rect x="524.4" y="447.4" width="3.4" height="4.2" fill="#fff" stroke="none"/><rect x="531.0" y="446" width="5.2" height="7.6" fill="#bbb" stroke="none"/><rect x="531.9" y="447.4" width="3.4" height="4.2" fill="#fff" stroke="none"/><path d="M517.8 428.1H533.6M517.8 425.3V431.5M525.7 425.3V431.5M533.6 425.3V431.5" fill="none" stroke="#111" stroke-width="1.1"/>
<rect x="477.2" y="444.5" width="1.9" height="11.6" fill="#222"/>
<rect x="505.1" y="444" width="1.7" height="12.2" fill="#222"/>
<path d="M507 442.5H514" stroke="#222" stroke-width="1" fill="none"/>
<text x="450.6" y="424.6" font-size="3" font-weight="bold" textLength="7.0" lengthAdjust="spacingAndGlyphs">L N</text>
<text x="489.6" y="424.6" font-size="3" font-weight="bold" textLength="6.0" lengthAdjust="spacingAndGlyphs">L N</text>
<text x="523.2" y="424.6" font-size="3" font-weight="bold" textLength="5.0" lengthAdjust="spacingAndGlyphs">L N</text>
</g>
<g id="battery">
<rect x="588.7" y="436.1" width="79" height="21.4" fill="#fff" stroke="#222" stroke-width="1"/>
<path d="M625.8 425.5V457.4" stroke="#222" stroke-width="1.1" fill="none"/>
<path d="M588.7 457.4H667.7" stroke="#777" stroke-width="2.2" fill="none"/>
<path d="M605.9 452q-1.6 -2.6 0.6 -5.4q0.6 -0.8 1.6 -0.8h7.6q1 0 1.6 0.8q2.2 2.8 0.6 5.4z" fill="#fff" stroke="#222" stroke-width="1"/><rect x="609.0" y="443.5" width="5.8" height="2.5" fill="#1c1c1c"/><path d="M609.0 446v5M614.8 446v5" stroke="#333" stroke-width="0.9" fill="none"/><path d="M606.7 451.6h10.4" stroke="#1c1c1c" stroke-width="1.7" fill="none"/><path d="M601.7 457v-2.6h20.4v2.6" fill="#fff" stroke="#1c1c1c" stroke-width="1.2"/><path d="M606.1 458.6h11.6v2.4q0 1.6 -1.6 1.6h-8.4q-1.6 0 -1.6 -1.6zM609.0 458.6v4M614.8 458.6v4" fill="#fff" stroke="#2a2a2a" stroke-width="0.9"/>
<path d="M634.0 452q-1.6 -2.6 0.6 -5.4q0.6 -0.8 1.6 -0.8h7.6q1 0 1.6 0.8q2.2 2.8 0.6 5.4z" fill="#fff" stroke="#222" stroke-width="1"/><rect x="637.1" y="443.5" width="5.8" height="2.5" fill="#1c1c1c"/><path d="M637.1 446v5M642.9 446v5" stroke="#333" stroke-width="0.9" fill="none"/><path d="M634.8 451.6h10.4" stroke="#1c1c1c" stroke-width="1.7" fill="none"/><path d="M629.8 457v-2.6h20.4v2.6" fill="#fff" stroke="#1c1c1c" stroke-width="1.2"/><path d="M634.2 458.6h11.6v2.4q0 1.6 -1.6 1.6h-8.4q-1.6 0 -1.6 -1.6zM637.1 458.6v4M642.9 458.6v4" fill="#fff" stroke="#2a2a2a" stroke-width="0.9"/>
</g>
<g id="chassis-lower" fill="none" stroke="#333" stroke-width="0.9">
<path d="M431.2 456.4V444.2H442.4" />
<path d="M425 443.4q3.6 0.6 3.4 3t-3.4 3" stroke="#222" stroke-width="1"/>
<path d="M438.9 466L440.4 472.8H452.8L454 466" stroke-width="0.8"/>
<path d="M661.1 466L662.6 473.3H674.6L676.1 466" stroke-width="0.8"/>
<rect x="472.4" y="467" width="170.8" height="4.6" fill="#fff" stroke="#222" stroke-width="1"/>
<path d="M472.4 469.4H643" stroke="#555" stroke-width="0.8"/>
<path d="M431 458V465M440.6 458V465M444 458V465M538.6 454.2H555M546 459V465M549.3 459V465" stroke-width="0.8"/>
<path d="M554.4 454V464.4H586.5V453.6" stroke-width="1" stroke="#222"/>
<path d="M555 464.2H586" stroke-width="1.6" stroke="#555"/>
<path d="M568.5 464V454.2H573.2V464" stroke-width="0.9" stroke="#333"/>
<path d="M586.5 456H588.7M590.6 458.5V463" stroke-width="0.8"/>
<path d="M669.5 454.7V463.6H681.5" stroke-width="1"/>
<path d="M681.6 465V449.4q0 -3 3 -3h6.6" stroke-width="1" stroke="#222"/>
<path d="M683 449v8.4h8.4M683 459.6h3" stroke-width="0.8" stroke="#555"/>
<path d="M588 462.6H668M601 458v4M606 458v4M656 458v4" stroke-width="0.8" stroke="#444"/>
<rect x="660" y="459" width="2.6" height="2.6" fill="#222" stroke="none"/>
<circle cx="453.8" cy="460.3" r="1" fill="#222" stroke="none"/>
</g>
<g id="leaders" fill="none" stroke="#1c1c1c" stroke-width="1.5" stroke-linejoin="round">
<path d="M457.4 255V269.6M444.6 340.8V269.6H469V340.8"/>
<path d="M497.6 255V269.6M484.7 340V269.6H510.8V340"/>
<path d="M583.8 256V284.8M580.2 332.6V284.8H588V332.6"/>
<path d="M578 322.8l2.2 -5l2.2 5zM585.8 322.8l2.2 -5l2.2 5z" fill="#1c1c1c" stroke-width="0.8"/>
<path d="M584 384.7H714.7L720.5 380.3H728.2"/>
<path d="M584 398.4H714.7L720.5 402.9H728.2"/>
<path d="M679.6 428.6H730"/>
<path d="M454.1 495V480.4M446.3 456.5V480.4H461.7V456.5"/>
<path d="M491.9 495V482.3M484 456.5V482.3H499.3V456.5"/>
<path d="M525.7 495V482.3M518.2 456.5V482.3H533.6V456.5"/>
<path d="M543.9 495V428.4L560.6 399.8"/>
<path d="M566.1 495V436.8L563.1 430.6"/>
<path d="M588.8 495V434.8L570.6 417.4V382.4H566"/>
<path d="M623.9 495V480.3M611.9 459V480.3H640.1V459"/>
</g>
<g id="callouts-bottom">
<circle cx="457.4" cy="246.5" r="9.2" fill="#fff" stroke="#222" stroke-width="1.00"/><text x="457.6" y="251.4" font-size="13.6" text-anchor="middle" style="stroke:#222;stroke-width:0.15px;letter-spacing:0.50px"><tspan class="one" style="font-size:12.8px">1</tspan>0</text>
<circle cx="497.6" cy="246.5" r="9.2" fill="#fff" stroke="#222" stroke-width="1.00"/><text x="497.6" y="252.0" font-size="15.5" text-anchor="middle" style="stroke:#222;stroke-width:0.15px">9</text>
<circle cx="583.8" cy="246.8" r="9.4" fill="#fff" stroke="#222" stroke-width="1.00"/><text x="583.8" y="252.3" font-size="15.5" text-anchor="middle" style="stroke:#222;stroke-width:0.15px">8</text>
<circle cx="737.0" cy="380.3" r="9.3" fill="#fff" stroke="#222" stroke-width="1.00"/><text x="737.0" y="385.8" font-size="15.5" text-anchor="middle" style="stroke:#222;stroke-width:0.15px">7</text>
<circle cx="737.0" cy="403.2" r="9.3" fill="#fff" stroke="#222" stroke-width="1.00"/><text x="737.0" y="408.7" font-size="15.5" text-anchor="middle" style="stroke:#222;stroke-width:0.15px">6</text>
<circle cx="738.7" cy="429.0" r="9.3" fill="#fff" stroke="#222" stroke-width="1.00"/><text x="739.0" y="433.9" font-size="13.6" text-anchor="middle" style="stroke:#222;stroke-width:0.15px;letter-spacing:0.50px"><tspan class="one" style="font-size:12.8px">1</tspan>8</text>
<circle cx="454.1" cy="504.2" r="9.4" fill="#fff" stroke="#222" stroke-width="1.00"/><text x="454.4" y="509.1" font-size="13.6" text-anchor="middle" style="stroke:#222;stroke-width:0.15px;letter-spacing:0.50px"><tspan class="one" style="font-size:12.8px">1</tspan><tspan class="one" style="font-size:12.8px">1</tspan></text>
<circle cx="491.9" cy="504.2" r="9.4" fill="#fff" stroke="#222" stroke-width="1.00"/><text x="492.1" y="509.1" font-size="13.6" text-anchor="middle" style="stroke:#222;stroke-width:0.15px;letter-spacing:0.50px"><tspan class="one" style="font-size:12.8px">1</tspan>2</text>
<circle cx="525.7" cy="504.2" r="9.4" fill="#fff" stroke="#222" stroke-width="1.00"/><text x="526.0" y="509.1" font-size="13.6" text-anchor="middle" style="stroke:#222;stroke-width:0.15px;letter-spacing:0.50px"><tspan class="one" style="font-size:12.8px">1</tspan>3</text>
<circle cx="543.9" cy="504.2" r="9.4" fill="#fff" stroke="#222" stroke-width="1.00"/><text x="544.1" y="509.1" font-size="13.6" text-anchor="middle" style="stroke:#222;stroke-width:0.15px;letter-spacing:0.50px"><tspan class="one" style="font-size:12.8px">1</tspan>4</text>
<circle cx="566.3" cy="504.2" r="9.4" fill="#fff" stroke="#222" stroke-width="1.00"/><text x="566.5" y="509.1" font-size="13.6" text-anchor="middle" style="stroke:#222;stroke-width:0.15px;letter-spacing:0.50px"><tspan class="one" style="font-size:12.8px">1</tspan>5</text>
<circle cx="588.8" cy="504.2" r="9.4" fill="#fff" stroke="#222" stroke-width="1.00"/><text x="589.0" y="509.1" font-size="13.6" text-anchor="middle" style="stroke:#222;stroke-width:0.15px;letter-spacing:0.50px"><tspan class="one" style="font-size:12.8px">1</tspan>6</text>
<circle cx="623.9" cy="504.2" r="9.4" fill="#fff" stroke="#222" stroke-width="1.00"/><text x="624.1" y="509.1" font-size="13.6" text-anchor="middle" style="stroke:#222;stroke-width:0.15px;letter-spacing:0.50px"><tspan class="one" style="font-size:12.8px">1</tspan>7</text>
</g>
</svg>
</body></html>
